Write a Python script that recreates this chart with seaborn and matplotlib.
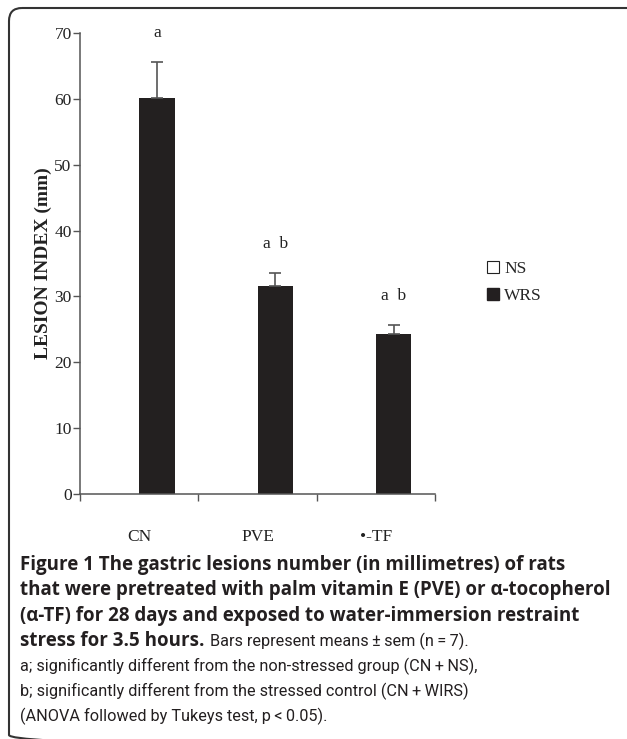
import numpy as np
import pandas as pd
import matplotlib
matplotlib.use('Agg')
import matplotlib.pyplot as plt
import seaborn as sns
from matplotlib.patches import FancyBboxPatch, Patch

# chart data
groups = ['CN', 'PVE', '•-TF']
conditions = ['NS', 'WRS']
ns_means = [0, 0, 0]
wrs_means = [60.1, 31.6, 24.3]
wrs_sem = [5.5, 2.0, 1.4]
letters = ['a', 'a  b', 'a  b']

df = pd.DataFrame({
    'group': groups * 2,
    'condition': ['NS'] * 3 + ['WRS'] * 3,
    'lesion': ns_means + wrs_means,
})

sns.set_style('white')
plt.rcParams['font.family'] = ['Liberation Serif', 'DejaVu Serif']

W, H = 627, 739
fig = plt.figure(figsize=(W / 100, H / 100), dpi=100)

# frame around the figure (pixel coordinates)
bg = fig.add_axes([0, 0, 1, 1])
bg.set_xlim(0, W)
bg.set_ylim(H, 0)
bg.axis('off')
bg.add_patch(FancyBboxPatch((9, 8), 720, 740, boxstyle='round,pad=0,rounding_size=13',
                            fill=False, edgecolor='#333333', linewidth=1.5))

ax = fig.add_axes([80 / W, 1 - 494 / H, 355 / W, 461 / H])
sns.barplot(data=df, x='group', y='lesion', hue='condition', order=groups,
            hue_order=conditions, palette={'NS': 'white', 'WRS': '#231f20'},
            width=0.6, errorbar=None, legend=False, ax=ax, edgecolor='none')

# error bars (upper only) on the WRS bars
wrs_bars = ax.patches[3:6]
for bar, m, s, lab in zip(wrs_bars, wrs_means, wrs_sem, letters):
    xc = bar.get_x() + bar.get_width() / 2
    ax.errorbar(xc, m, yerr=[[0], [s]], fmt='none', ecolor='#555555',
                elinewidth=1.2, capsize=4, capthick=1.2)
    ax.text(xc, m + s + 4.4, lab, ha='center', va='center', fontsize=12.5, color='#222222')

ax.set_ylim(0, 70)
ax.set_xlim(-0.5, 2.5)
ax.set_yticks(np.arange(0, 71, 10))
ax.set_xticks([-0.5, 0.5, 1.5, 2.5])
ax.set_xticklabels([])
ax.set_xticks([0, 1, 2], minor=True)
ax.set_xticklabels(groups, minor=True)
ax.tick_params(axis='x', which='major', direction='out', length=5, width=1, color='#555555', bottom=True)
ax.tick_params(axis='x', which='minor', length=0, pad=25, labelsize=12.5, labelcolor='#222222')
ax.tick_params(axis='y', direction='out', length=5, width=1, color='#555555', left=True,
               labelsize=12.5, labelcolor='#222222', pad=1)
ax.set_xlabel('')
ax.set_ylabel('LESION INDEX (mm)', fontsize=14, fontweight='bold', color='#222222', labelpad=2)
for side in ['top', 'right']:
    ax.spines[side].set_visible(False)
for side in ['left', 'bottom']:
    ax.spines[side].set_color('#555555')
    ax.spines[side].set_linewidth(1.1)

handles = [Patch(facecolor='white', edgecolor='#222222', linewidth=0.8),
           Patch(facecolor='#231f20', edgecolor='#231f20')]
fig.legend(handles, conditions, loc='upper left', bbox_to_anchor=(480 / W, 1 - 254 / H),
           frameon=False, fontsize=12.5, handlelength=0.7, handleheight=0.7,
           handletextpad=0.3, labelspacing=0.6, borderaxespad=0)

# caption
ts = '\u2009'
cap_bold = ['Figure 1 The gastric lesions number (in millimetres) of rats',
            'that were pretreated with palm vitamin E (PVE) or α-tocopherol',
            '(α-TF) for 28 days and exposed to water-immersion restraint',
            'stress for 3.5 hours.']
cap_regular = [f'Bars represent means{ts}±{ts}sem (n{ts}={ts}7).',
               f'a; significantly different from the non-stressed group (CN{ts}+{ts}NS),',
               f'b; significantly different from the stressed control (CN{ts}+{ts}WIRS)',
               f'(ANOVA followed by Tukeys test, p{ts}<{ts}0.05).']
sans = ['Open Sans', 'DejaVu Sans']
reg = ['Roboto', 'DejaVu Sans']
y0, dy = 565, 25.3
for i, line in enumerate(cap_bold):
    t = bg.text(20, y0 + i * dy, line, fontsize=13.5, fontweight='bold', family=sans,
                color='#231f20', va='center', ha='left')
fig.canvas.draw()
bb = t.get_window_extent(fig.canvas.get_renderer())
x_end = bb.x1
bg.text(x_end + 5, y0 + 3 * dy, cap_regular[0], fontsize=11.7, family=reg,
        color='#231f20', va='center', ha='left')
for i, line in enumerate(cap_regular[1:]):
    bg.text(20, y0 + (4 + i) * dy, line, fontsize=11.7, family=reg,
            color='#231f20', va='center', ha='left')

fig.savefig('out.png', dpi=100)
